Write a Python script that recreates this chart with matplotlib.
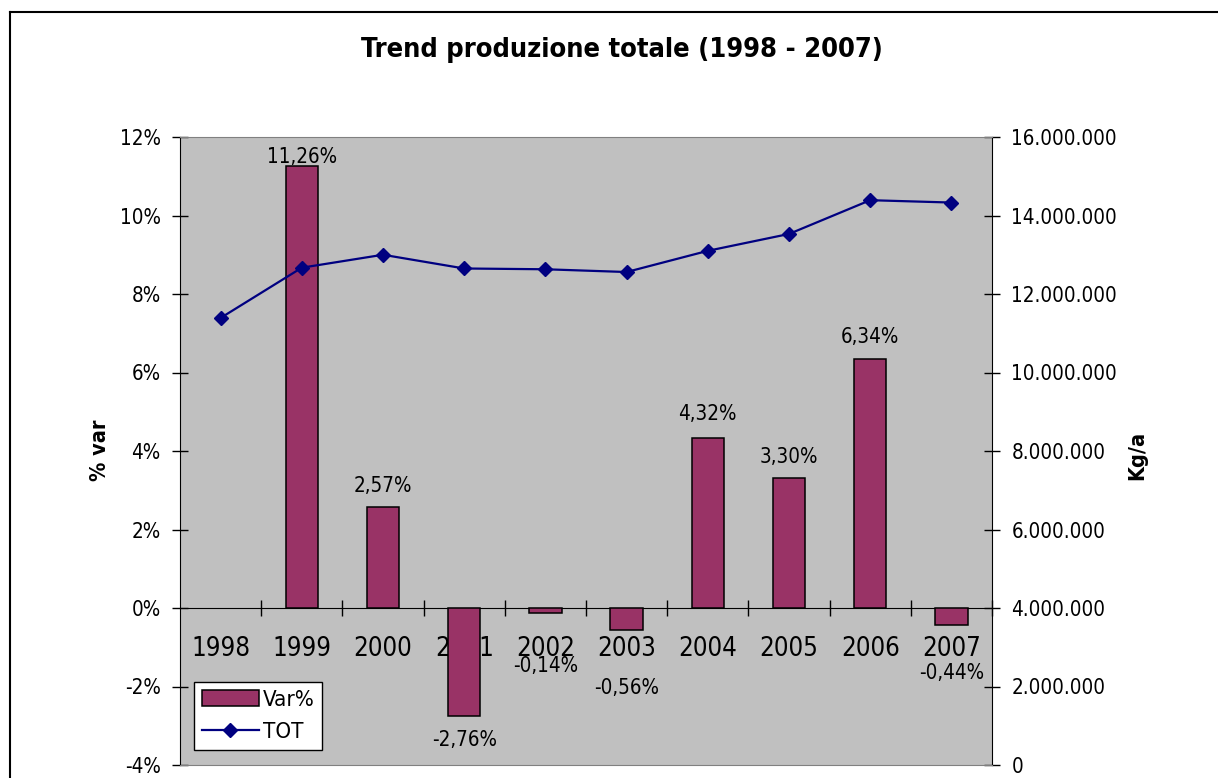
import matplotlib
matplotlib.use('Agg')
import matplotlib.pyplot as plt
import numpy as np
from matplotlib.lines import Line2D
from matplotlib.patches import Patch
from matplotlib.ticker import FuncFormatter

# data
years = ['1998', '1999', '2000', '2001', '2002', '2003', '2004', '2005', '2006', '2007']
var_pct = [np.nan, 11.26, 2.57, -2.76, -0.14, -0.56, 4.32, 3.30, 6.34, -0.44]
tot_kg = [11390000, 12670000, 13000000, 12650000, 12630000,
          12560000, 13100000, 13530000, 14390000, 14330000]
# vertical nudge (pixels) of each data label from the bar end
label_nudge = [0, 9, 21, -24, -53, -58, 24, 21, 22, -48]

plt.rcParams['font.family'] = ['DejaVu Sans']
plt.rcParams['font.stretch'] = 'condensed'

fig = plt.figure(figsize=(12.18, 7.78), dpi=100)
ax = fig.add_axes([180 / 1218, 1 - 765 / 778, 812 / 1218, 628 / 778])
ax2 = ax.twinx()

x = np.arange(len(years))

# bars (left axis)
ax.set_facecolor('#C0C0C0')
ax.bar(x, var_pct, width=0.4, color='#993366', edgecolor='black', linewidth=1.1, zorder=3)
ax.set_xlim(-0.5, len(years) - 0.5)
ax.set_ylim(-4, 12)
ax.set_yticks(np.arange(-4, 13, 2))
ax.yaxis.set_major_formatter(FuncFormatter(lambda v, p: f"{int(v)}%"))
ax.tick_params(axis='y', direction='inout', length=12, width=1, pad=8, labelsize=14.8)

ax.spines['bottom'].set_position(('data', 0))
ax.spines['top'].set_visible(False)
ax.spines['right'].set_visible(False)
ax.spines['left'].set_color('black')
ax.spines['bottom'].set_color('black')

ax.set_xticks(x + 0.5)
ax.set_xticklabels([])
ax.tick_params(axis='x', which='major', direction='inout', length=12, width=1)
ax.set_xticks(x, minor=True)
ax.set_xticklabels(years, minor=True)
ax.tick_params(axis='x', which='minor', length=0, pad=20, labelsize=18.5)

for xi, v, nud in zip(x, var_pct, label_nudge):
    if np.isnan(v):
        continue
    txt = f"{v:.2f}%".replace('.', ',')
    ax.annotate(txt, (xi, v), xytext=(0, nud), textcoords='offset pixels',
                ha='center', va='center', fontsize=14.8, zorder=5)

# line (right axis)
ax2.plot(x, tot_kg, color='#000080', linewidth=1.6, marker='D', markersize=7.2, zorder=4)
ax2.set_ylim(0, 16000000)
ax2.set_yticks(np.arange(0, 16000001, 2000000))
ax2.yaxis.set_major_formatter(FuncFormatter(lambda v, p: f"{int(v):,}".replace(',', '.')))
ax2.tick_params(axis='y', direction='inout', length=12, width=1, pad=8, labelsize=14.8)
ax2.spines['left'].set_visible(False)
ax2.spines['right'].set_color('black')
ax2.spines['top'].set_color('#808080')
ax2.spines['bottom'].set_color('#808080')

handles = [Patch(facecolor='#993366', edgecolor='black', linewidth=1.1),
           Line2D([], [], color='#000080', linewidth=1.6, marker='D', markersize=7.2)]
leg = ax2.legend(handles, ['Var%', 'TOT'], loc='lower left', bbox_to_anchor=(0.017, 0.024),
                 fontsize=16, frameon=True, fancybox=False, framealpha=1,
                 edgecolor='black', facecolor='white', handlelength=2.6,
                 handletextpad=0.15, borderpad=0.35, labelspacing=0.55, borderaxespad=0)
leg.get_frame().set_linewidth(1)

# titles
fig.text(622 / 1218, 1 - 50 / 778, 'Trend produzione totale (1998 - 2007)',
         ha='center', va='center', fontsize=19.5, fontweight='bold')
fig.text(100 / 1218, 1 - 450 / 778, '% var', rotation=90, ha='center', va='center',
         fontsize=15.5, fontweight='bold')
fig.text(1137 / 1218, 1 - 455 / 778, 'Kg/a', rotation=90, ha='center', va='center',
         fontsize=15.5, fontweight='bold')

# outer chart border (cut off at right and bottom in the original)
fig.add_artist(Line2D([10 / 1218, 1], [1 - 12 / 778] * 2, color='black', lw=1.5,
                      transform=fig.transFigure))
fig.add_artist(Line2D([10 / 1218] * 2, [0, 1 - 12 / 778], color='black', lw=1.5,
                      transform=fig.transFigure))

fig.savefig('out.png', dpi=100)
